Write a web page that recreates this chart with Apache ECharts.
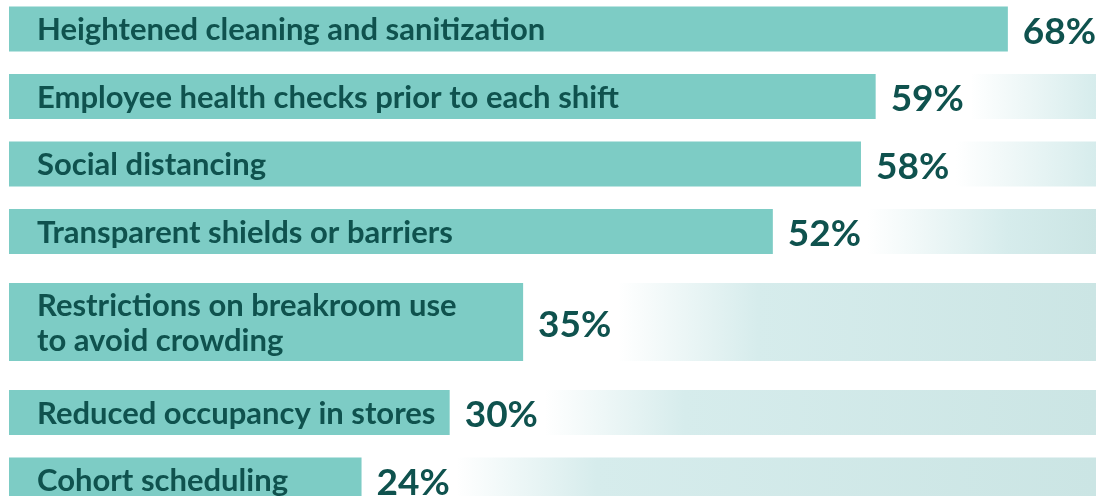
<!DOCTYPE html>
<html>
<head>
<meta charset="utf-8">
<script src="https://cdn.jsdelivr.net/npm/echarts@6/dist/echarts.min.js"></script>
<style>
  html, body { margin: 0; padding: 0; background: #fff; }
  #chart { width: 1102px; height: 496px; }
</style>
</head>
<body>
<div id="chart"></div>
<script>
const categories = [
  "Heightened cleaning and sanitization",
  "Employee health checks prior to each shift",
  "Social distancing",
  "Transparent shields or barriers",
  "Restrictions on breakroom use\nto avoid crowding",
  "Reduced occupancy in stores",
  "Cohort scheduling"
];
const values = [68, 59, 58, 52, 35, 30, 24];

const BAR_COLOR = "#7dccc5";
const TEXT_COLOR = "#0f524e";
const BAR_H = 45;
const LINE_EXTRA = 33;   // extra bar height for each extra label line
const ROW_EXTRA = 46;    // extra row space for each extra label line
const LABEL_GAP = 15;
const TRACK_OFFSET = 95;
const FADE = 140;

const lineCounts = categories.map((c) => c.split("\n").length);

const chart = echarts.init(document.getElementById("chart"), null, { renderer: "canvas" });

function renderItem(params, api) {
  const val = api.value(0);
  const idx = api.value(1);
  const lines = lineCounts[idx];
  let shift = 0;
  for (let i = 0; i < idx; i++) shift += (lineCounts[i] - 1) * ROW_EXTRA;
  shift += (lines - 1) * ROW_EXTRA / 2;

  const start = api.coord([0, idx]);
  const end = api.coord([val, idx]);
  const cy = start[1] + shift;
  const h = BAR_H + (lines - 1) * LINE_EXTRA;
  const top = cy - h / 2;
  const right = params.coordSys.x + params.coordSys.width;
  const trackX = end[0] + TRACK_OFFSET;
  const trackW = Math.max(0, right - trackX);
  const f = trackW > 0 ? Math.min(1, FADE / trackW) : 1;

  return {
    type: "group",
    children: [
      {
        type: "rect",
        shape: { x: trackX, y: top, width: trackW, height: h },
        style: {
          fill: {
            type: "linear", x: 0, y: 0, x2: 1, y2: 0,
            colorStops: [
              { offset: 0, color: "rgba(214,236,236,0)" },
              { offset: f, color: "#d6ecec" },
              { offset: 1, color: "#cbe5e4" }
            ]
          }
        }
      },
      {
        type: "rect",
        shape: { x: start[0], y: top, width: end[0] - start[0], height: h },
        style: { fill: BAR_COLOR }
      },
      {
        type: "text",
        x: start[0] + 28,
        y: cy + 1,
        style: {
          text: categories[idx],
          fill: TEXT_COLOR,
          font: "bold 31px Lato",
          lineHeight: 35,
          verticalAlign: "middle",
          align: "left"
        }
      },
      {
        type: "text",
        x: end[0] + LABEL_GAP,
        y: cy + 3,
        style: {
          text: val + "%",
          fill: TEXT_COLOR,
          font: "bold 37px Lato",
          verticalAlign: "middle",
          align: "left"
        }
      }
    ]
  };
}

chart.setOption({
  backgroundColor: "#fff",
  animation: false,
  grid: { left: 9, right: 6, top: 29, height: 405 },
  xAxis: { type: "value", min: 0, max: 74, show: false },
  yAxis: { type: "category", data: categories, inverse: true, boundaryGap: false, show: false },
  series: [{
    type: "custom",
    renderItem: renderItem,
    encode: { x: 0, y: 1 },
    clip: false,
    data: values.map((v, i) => [v, i])
  }]
});
</script>
</body>
</html>
